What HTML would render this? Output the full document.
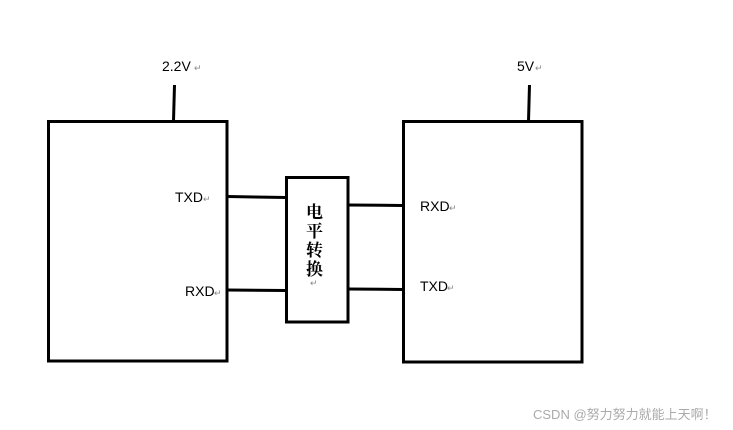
<!DOCTYPE html>
<html><head><meta charset="utf-8"><style>
html,body{margin:0;padding:0;background:#fff;width:733px;height:430px;overflow:hidden}
svg{display:block}
.t{font-family:"Liberation Sans",sans-serif;font-size:14px;fill:#000}
.r{font-family:"Liberation Sans",sans-serif;font-size:9px;fill:#888}
.c{font-family:"Liberation Serif","Noto Serif CJK SC",serif;font-size:17px;font-weight:bold;fill:#000}
.w{font-family:"Liberation Sans","Noto Sans CJK SC",sans-serif;font-size:13px;fill:#aaa}
</style></head><body>
<svg width="733" height="430" xmlns="http://www.w3.org/2000/svg">
<g stroke="#000" stroke-width="3" fill="none">
<rect x="48.5" y="121.5" width="178.5" height="239.5"/>
<rect x="403.5" y="121.5" width="178.5" height="240.5"/>
<rect x="286.5" y="177.5" width="61.5" height="144.5"/>
<line x1="174.5" y1="85" x2="173.5" y2="121"/>
<line x1="529.5" y1="85" x2="528.5" y2="121"/>
<line x1="227" y1="196.5" x2="286" y2="197.5"/>
<line x1="227" y1="290" x2="286" y2="290.5"/>
<line x1="348" y1="205" x2="403" y2="205.5"/>
<line x1="348" y1="289" x2="403" y2="289.5"/>
</g>
<text class="t" x="162" y="71">2.2V</text><text class="r" x="194" y="71">↵</text>
<text class="t" x="517" y="71">5V</text><text class="r" x="535" y="71">↵</text>
<text class="t" x="175" y="202">TXD</text><text class="r" x="203" y="202">↵</text>
<text class="t" x="185" y="296">RXD</text><text class="r" x="214" y="296">↵</text>
<text class="t" x="420" y="211">RXD</text><text class="r" x="449" y="211">↵</text>
<text class="t" x="420" y="291">TXD</text><text class="r" x="447" y="291">↵</text>
<text class="c" x="306" y="218">电</text>
<text class="c" x="306" y="237">平</text>
<text class="c" x="306" y="256">转</text>
<text class="c" x="306" y="275">换</text>
<text class="r" x="310" y="286">↵</text>
<text class="w" x="533" y="419">CSDN @努力努力就能上天啊！</text>
</svg>
</body></html>
